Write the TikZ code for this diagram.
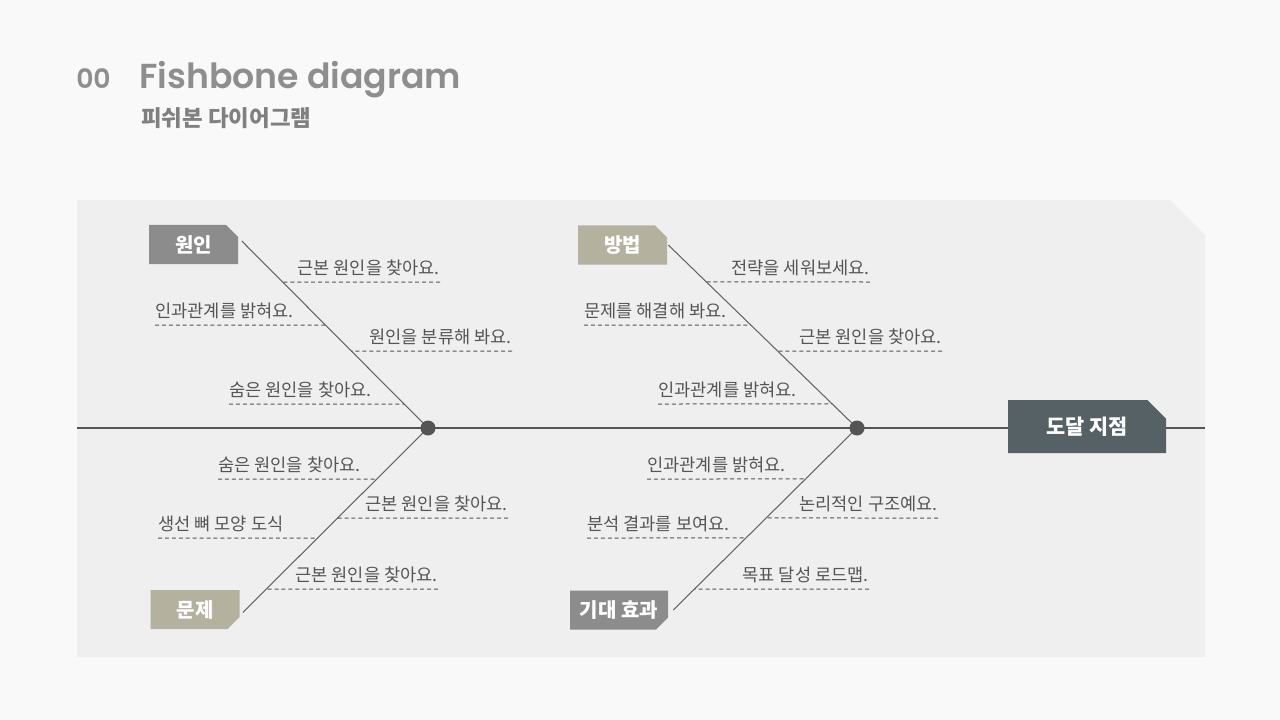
\documentclass[tikz,border=0pt]{standalone}
\usepackage{fontspec}
\setmainfont{Noto Sans CJK KR}
\newfontfamily\titlefont{Poppins SemiBold}
\usetikzlibrary{shapes.misc}

\definecolor{pagebg}{HTML}{F9F9F9}
\definecolor{panelbg}{HTML}{EFEFEF}
\definecolor{inkgray}{HTML}{555555}
\definecolor{bonegray}{HTML}{666666}
\definecolor{titlegray}{HTML}{8E8E8E}
\definecolor{causegray}{HTML}{8C8C8C}
\definecolor{khaki}{HTML}{B4B19F}
\definecolor{headslate}{HTML}{566166}

\tikzset{
	bonelabel/.style={chamfered rectangle, chamfered rectangle sep=4.5pt,
		chamfered rectangle corners=north east, inner sep=0pt,
		minimum width=66.75pt, minimum height=29.25pt, text=white,
		font=\bfseries\fontsize{15pt}{17pt}\selectfont},
	spine/.style={draw=inkgray, line width=1.1pt},
	bone/.style={draw=bonegray, line width=0.8pt},
	dashline/.style={draw=inkgray, line width=0.75pt, dash pattern=on 3pt off 2.2pt},
	item/.style={text=inkgray, inner xsep=0pt, inner ysep=5.5pt, text depth=0pt,
		font=\fontsize{13.2pt}{15pt}\selectfont}
}

\begin{document}
\begin{tikzpicture}[x=0.75pt,y=-0.75pt]
	\fill[pagebg] (0,0) rectangle (1280,720);
	\fill[panelbg] (77,200) -- (1170,200) -- (1205,235) -- (1205,657) -- (77,657) -- cycle;

	% title
	\node[anchor=base west, inner sep=0pt, text=titlegray,
		font=\titlefont\fontsize{20pt}{22pt}\selectfont] (num) at (76,89) {00};
	\node[anchor=base west, inner sep=0pt, text=titlegray,
		font=\titlefont\fontsize{26pt}{30pt}\selectfont] (title) at (139,89) {Fishbone diagram};
	\node[anchor=base west, inner sep=0pt, text=titlegray!90!black,
		font=\bfseries\fontsize{16.8pt}{18pt}\selectfont] (subtitle) at (141,127) {피쉬본 다이어그램};

	% spine and head
	\path (77,428) coordinate (tail)
	(1205,428) coordinate (snout)
	(428,428) coordinate (j1)
	(857,428) coordinate (j2);
	\draw[spine] (tail) -- (snout);
	\node[bonelabel, fill=headslate, chamfered rectangle sep=7pt,
		minimum width=118.5pt, minimum height=39.75pt,
		font=\bfseries\fontsize{15.6pt}{17pt}\selectfont] (goal) at (1087,426.5) {도달 지점};

	% bone labels
	\node[bonelabel, fill=causegray] (cause) at (193.5,244.5) {원인};
	\node[bonelabel, fill=khaki] (method) at (622.5,245) {방법};
	\node[bonelabel, fill=khaki, chamfered rectangle corners=south east] (problem) at (195,609.5) {문제};
	\node[bonelabel, fill=causegray, chamfered rectangle corners=south east,
		minimum width=73.5pt] (effect) at (619,610) {기대 효과};

	% bones
	\path (cause.east) ++(3.5,-3.5) coordinate (tl0)
	(method.east) ++(1,0) coordinate (tr0)
	(problem.east) ++(3,3) coordinate (bl0)
	(effect.east) ++(5,0) coordinate (br0)
	(j1) coordinate (tl1) coordinate (bl1)
	(j2) coordinate (tr1) coordinate (br1);
	\draw[bone] (tl0) -- (tl1);
	\draw[bone] (bl0) -- (bl1);
	\draw[bone] (tr0) -- (tr1);
	\draw[bone] (br0) -- (br1);

	% sub causes, right of the bone
	\foreach \x/\y/\b/\txt in {440/282/tl/근본 원인을 찾아요., 512/351/tl/원인을 분류해 봐요.,
		508/518/bl/근본 원인을 찾아요., 438/589/bl/근본 원인을 찾아요.,
		870/282/tr/전략을 세워보세요., 942/351/tr/근본 원인을 찾아요.,
		938/518/br/논리적인 구조예요., 869/589/br/목표 달성 로드맵.}
	{
		\node[item, anchor=south east] (n) at (\x,\y) {\txt};
		\draw[dashline] (n.south east) -- (intersection of \b0--\b1 and n.south east--n.south west);
	}
	% sub causes, left of the bone
	\foreach \x/\y/\b/\txt in {155/325/tl/인과관계를 밝혀요., 229/404/tl/숨은 원인을 찾아요.,
		218/479/bl/숨은 원인을 찾아요., 158/538/bl/생선 뼈 모양 도식,
		584/325/tr/문제를 해결해 봐요., 658/404/tr/인과관계를 밝혀요.,
		647/479/br/인과관계를 밝혀요., 587/538/br/분석 결과를 보여요.}
	{
		\node[item, anchor=south west] (n) at (\x,\y) {\txt};
		\draw[dashline] (n.south west) -- (intersection of \b0--\b1 and n.south west--n.south east);
	}

	% joints
	\fill[inkgray] (j1) circle[radius=7.5];
	\fill[inkgray] (j2) circle[radius=7.5];
\end{tikzpicture}
\end{document}
